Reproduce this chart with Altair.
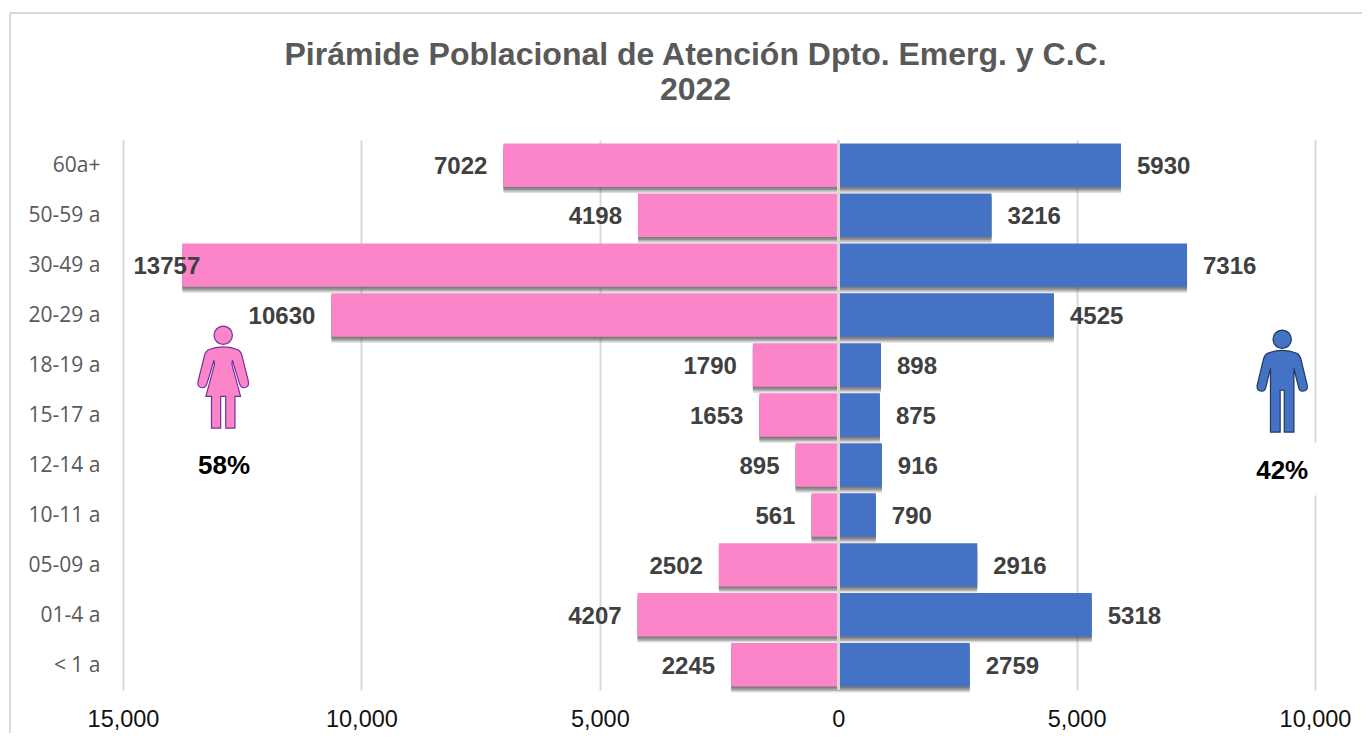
import altair as alt
import pandas as pd

ages = ["60a+", "50-59 a", "30-49 a", "20-29 a", "18-19 a", "15-17 a", "12-14 a", "10-11 a", "05-09 a", "01-4 a", "< 1 a"]
mujeres = [7022, 4198, 13757, 10630, 1790, 1653, 895, 561, 2502, 4207, 2245]
hombres = [5930, 3216, 7316, 4525, 898, 875, 916, 790, 2916, 5318, 2759]
x_ticks = [-15000, -10000, -5000, 0, 5000, 10000]
title_lines = ["Pirámide Poblacional de Atención Dpto. Emerg. y C.C.", "2022"]

PINK = "#FB85C8"
BLUE = "#4472C4"
GRID = "#D9D9D9"

WOMAN = ("M-.18,-.82 A.18,.18 0 1 1 .18,-.82 A.18,.18 0 1 1 -.18,-.82 Z "
         "M-.30,-.53 Q0,-.65 .30,-.53 Q.34,-.50 .36,-.45 L.49,.07 Q.52,.21 .40,.21 Q.34,.21 .31,.10 "
         "L.18,-.33 L.17,-.25 L.34,.38 L.23,.38 L.23,1 L.05,1 L.05,.38 L-.05,.38 L-.05,1 L-.23,1 L-.23,.38 L-.34,.38 "
         "L-.17,-.25 L-.18,-.33 L-.31,.10 Q-.34,.21 -.40,.21 Q-.52,.21 -.49,.07 L-.36,-.45 Q-.34,-.50 -.30,-.53 Z")
MAN = ("M-.18,-.82 A.18,.18 0 1 1 .18,-.82 A.18,.18 0 1 1 -.18,-.82 Z "
       "M-.30,-.54 Q0,-.66 .30,-.54 Q.35,-.50 .37,-.42 L.49,.08 Q.51,.20 .40,.20 Q.34,.20 .32,.12 "
       "L.23,-.25 L.23,1 L.04,1 L.04,.18 L-.04,.18 L-.04,1 L-.23,1 L-.23,-.25 L-.32,.12 Q-.34,.20 -.40,.20 "
       "Q-.51,.20 -.49,.08 L-.37,-.42 Q-.35,-.50 -.30,-.54 Z")

df = pd.DataFrame(
    [{"edad": a, "sexo": "M", "valor": -m, "abs": m} for a, m in zip(ages, mujeres)]
    + [{"edad": a, "sexo": "H", "valor": h, "abs": h} for a, h in zip(ages, hombres)]
)

x_enc = alt.X(
    "valor:Q",
    scale=alt.Scale(domain=[-15000, 10000], nice=False, zero=False),
    axis=alt.Axis(
        values=x_ticks, title=None, grid=True, gridColor=GRID, gridWidth=2,
        domain=False, ticks=False, labelExpr="format(abs(datum.value), ',')",
        labelFont="Liberation Sans", labelFontSize=23.5, labelColor="#111111", labelPadding=17,
        labelFlush=False, labelBound=False, labelOverlap=False,
    ),
)
y_enc = alt.Y(
    "edad:N", sort=ages, scale=alt.Scale(domain=ages, paddingInner=0.13, paddingOuter=0.07),
    axis=alt.Axis(
        title=None, domain=False, ticks=False, grid=False, labelFont="Open Sans", labelFontSize=21,
        labelColor="#595959", labelPadding=23, labelOffset=1,
    ),
)

base = alt.Chart(df).encode(x=x_enc, y=y_enc)

shadows = [
    base.mark_bar(color="#555555", opacity=op, yOffset=off)
    for off, op in [(1.5, 0.35), (3, 0.35), (4.5, 0.3), (6, 0.2)]
]
bars = base.mark_bar().encode(
    color=alt.Color("sexo:N", scale=alt.Scale(domain=["M", "H"], range=[PINK, BLUE]), legend=None)
)
zero_line = alt.Chart(df).mark_rule(color=GRID, strokeWidth=2).encode(x=alt.datum(0))

label_kw = dict(font="Liberation Sans", fontSize=24, fontWeight="bold", color="#404040", dy=2)
text = base.encode(text=alt.Text("abs:Q", format="d"))
labels_l = text.transform_filter("datum.valor < 0 && datum.abs < 13000").mark_text(align="right", dx=-16, **label_kw)
labels_o = text.transform_filter("datum.abs >= 13000").mark_text(align="right", dx=18, **label_kw)
labels_r = text.transform_filter("datum.valor > 0").mark_text(align="left", dx=16, **label_kw)

box_df = pd.DataFrame({"x": [8800], "x2": [10300], "edad": ["12-14 a"]})
white_box = alt.Chart(box_df).mark_bar(color="white", height=53, yOffset=4).encode(
    x=alt.X("x:Q"), x2="x2:Q", y=alt.Y("edad:N", sort=ages)
)

pct_df = pd.DataFrame({"x": [-12880, 9312], "edad": ["12-14 a", "12-14 a"], "t": ["58%", "42%"]})
pct_kw = dict(font="Liberation Sans", fontSize=26, fontWeight="bold", color="#000000")
pct_w = alt.Chart(pct_df[pct_df.t == "58%"]).mark_text(dy=1, **pct_kw).encode(
    x="x:Q", y=alt.Y("edad:N", sort=ages), text="t:N")
pct_m = alt.Chart(pct_df[pct_df.t == "42%"]).mark_text(dy=6, **pct_kw).encode(
    x="x:Q", y=alt.Y("edad:N", sort=ages), text="t:N")

icon_w_df = pd.DataFrame({"x": [-12898], "edad": ["18-19 a"]})
icon_m_df = pd.DataFrame({"x": [9312], "edad": ["18-19 a"]})
icon_w = alt.Chart(icon_w_df).mark_point(
    shape=WOMAN, size=10404, filled=True, fill=PINK, fillOpacity=1, stroke="#7030A0", strokeWidth=1.2, yOffset=12
).encode(x="x:Q", y=alt.Y("edad:N", sort=ages))
icon_m = alt.Chart(icon_m_df).mark_point(
    shape=MAN, size=10404, filled=True, fill=BLUE, fillOpacity=1, stroke="#1F3864", strokeWidth=1.2, yOffset=16
).encode(x="x:Q", y=alt.Y("edad:N", sort=ages))

border_l = alt.Chart(df).mark_rule(color=GRID, strokeWidth=2).encode(
    x=alt.value(-113), y=alt.value(-127), y2=alt.value(593))
border_t = alt.Chart(df).mark_rule(color=GRID, strokeWidth=2).encode(
    x=alt.value(-113), x2=alt.value(1239), y=alt.value(-127))

title_kw = dict(font="Liberation Sans", fontSize=32, fontWeight="bold", color="#595959", align="center", baseline="middle")
title_1 = alt.Chart(pd.DataFrame({"t": [title_lines[0]]})).mark_text(**title_kw).encode(
    x=alt.value(572.5), y=alt.value(-85), text="t:N")
title_2 = alt.Chart(pd.DataFrame({"t": [title_lines[1]]})).mark_text(**title_kw).encode(
    x=alt.value(572.5), y=alt.value(-50), text="t:N")

chart = alt.layer(
    border_l, border_t, title_1, title_2, *shadows, bars, zero_line, white_box,
    labels_l, labels_o, labels_r, icon_w, icon_m, pct_w, pct_m,
).resolve_scale(color="independent").properties(
    width=1192, height=550,
    autosize="none",
    padding={"left": 115, "top": 132, "right": 47, "bottom": 43},
    background="white",
).configure_view(stroke=None)

chart.save("out.html", embed_options={"renderer": "svg", "actions": False})
